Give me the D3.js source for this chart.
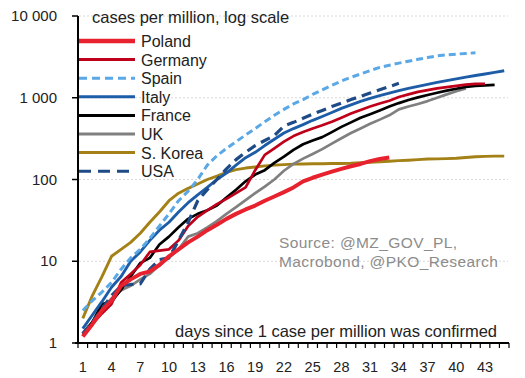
<!DOCTYPE html>
<html><head><meta charset="utf-8">
<script src="https://cdn.jsdelivr.net/npm/d3@7"></script>
<style>
body{margin:0;background:#fff;}
svg{display:block;font-family:"Liberation Sans",Arial,sans-serif;}
</style></head>
<body><svg id="c" width="525" height="378"></svg>
<script>
const days = d3.range(1, 46);
const xTickLabels = [1,4,7,10,13,16,19,22,25,28,31,34,37,40,43];
const yTickValues = [1,10,100,1000,10000];
const yTickLabels = ["1","10","100","1 000","10 000"];
const seriesNames = ["Poland","Germany","Spain","Italy","France","UK","S. Korea","USA"];

const poland = [1.2,1.7,2.5,3.3,5,6,7,7.5,9,11.5,14,17,20,24,28,33,38,43,48,55,62,70,80,95,105,115,125,135,145,155,168,178,186];
const germany = [1.3,1.7,2.3,3,5.5,7,9,13,13.5,14,18,27,35,42,50,58,68,80,130,200,240,290,340,380,420,460,510,570,640,710,780,850,920,1020,1100,1180,1240,1300,1350,1400,1450,1480,1480];
const spain = [2.5,3.3,4.2,5.5,8,11,14,19,27,38,55,72,100,150,195,240,290,350,420,510,610,720,840,950,1100,1250,1420,1600,1780,1950,2150,2350,2500,2650,2800,2950,3100,3250,3350,3420,3480,3550];
const italy = [1.5,2.2,3.2,4.8,6.5,10,13,18,24,30,40,52,65,80,100,120,150,185,215,260,310,370,420,470,530,590,660,740,820,900,980,1060,1140,1220,1300,1380,1460,1540,1620,1700,1790,1870,1950,2040,2140];
const france = [1.3,1.8,3,3.2,4.5,6.5,9.5,11,16,20,26,33,38,42,48,60,75,95,115,130,160,190,230,270,300,330,380,440,500,570,630,700,780,860,940,1010,1080,1150,1220,1290,1360,1400,1420,1440];
const uk = [1.3,1.8,2.6,3.5,4.4,5,6,7,9,11,14,20,22,26,31,38,46,56,68,82,100,128,155,180,205,235,275,320,370,420,480,540,610,720,780,840,910,1000,1100,1200,1300];
const korea = [2.0,3.8,6.5,11.5,14,17,22,30,40,55,68,78,88,100,110,122,132,138,142,147,150,152,154,155,156,156,157,157,158,160,162,165,167,170,172,175,178,179,180,182,186,190,192,193,193];
const usa = [1.3,1.8,2.6,3.8,5,5.2,5.3,8,10.5,11,18,30,55,75,100,135,175,215,260,300,345,450,500,560,630,700,780,860,950,1040,1140,1250,1370,1500];

const seriesValues = [poland,germany,spain,italy,france,uk,korea,usa];
const colors = ["#e8212e","#c0001a","#5ba8e6","#1d5ca6","#000000","#808080","#a48116","#1e4b86"];
const widths = [4,2.7,3,2.9,2.7,2.7,2.9,3.2];
const dashes = [null,null,"7,4",null,null,null,null,"10,6"];

const svg = d3.select("#c");
const x = d3.scaleBand().domain(days).range([78, 509]).padding(0);
const y = d3.scaleLog().domain([1, 10000]).range([343, 16]);
const cx = d => x(d) + x.bandwidth()/2;

// gridlines
svg.append("g").selectAll("line").data(yTickValues.slice(1)).join("line")
  .attr("x1", 79).attr("x2", 508)
  .attr("y1", d => y(d)).attr("y2", d => y(d))
  .attr("stroke", "#d8d8d8").attr("stroke-width", 1).attr("stroke-dasharray", "2,2");

// x axis
const gx = svg.append("g").attr("transform", "translate(0,343)");
gx.append("line").attr("x1", 75).attr("x2", 509).attr("stroke", "#000").attr("stroke-width", 2);
gx.selectAll("line.t").data(d3.range(0, 46)).join("line").attr("class","t")
  .attr("x1", i => 78 + i * x.step()).attr("x2", i => 78 + i * x.step())
  .attr("y1", 0).attr("y2", 5).attr("stroke", "#000").attr("stroke-width", 1.2);
gx.selectAll("text").data(xTickLabels).join("text")
  .attr("x", d => cx(d)).attr("y", 29).attr("text-anchor", "middle")
  .attr("font-size", 14.5).attr("fill", "#222").text(d => d);

// y axis
const gy = svg.append("g");
gy.append("line").attr("x1", 78).attr("x2", 78).attr("y1", 16).attr("y2", 344).attr("stroke", "#000").attr("stroke-width", 2);
gy.selectAll("line.t").data(yTickValues).join("line").attr("class","t")
  .attr("x1", 72).attr("x2", 78).attr("y1", d => y(d)).attr("y2", d => y(d))
  .attr("stroke", "#000").attr("stroke-width", 1.5);
gy.selectAll("text").data(yTickValues).join("text")
  .attr("x", 57).attr("y", d => y(d) + 5).attr("text-anchor", "end")
  .attr("font-size", 15).attr("fill", "#222").text((d,i) => yTickLabels[i]);

// lines
const line = d3.line().x((v,i) => cx(days[i])).y(v => y(v)).curve(d3.curveLinear);
const order = [6,5,4,1,3,7,2,0];
svg.append("g").selectAll("path").data(order).join("path")
  .attr("d", k => line(seriesValues[k]))
  .attr("fill", "none").attr("stroke", k => colors[k]).attr("stroke-width", k => widths[k])
  .attr("stroke-dasharray", k => dashes[k]).attr("stroke-linejoin", "round");

// title
svg.append("text").attr("x", 92).attr("y", 23).attr("font-size", 16.5).attr("fill", "#222")
  .text("cases per million, log scale");

// legend
const lg = svg.append("g");
seriesNames.forEach((n, i) => {
  const yy = 41 + i * 18.6;
  lg.append("line").attr("x1", 79).attr("x2", 135).attr("y1", yy).attr("y2", yy)
    .attr("stroke", colors[i]).attr("stroke-width", i === 0 ? 4.5 : 3)
    .attr("stroke-dasharray", dashes[i] ? (i === 7 ? "12,7" : "8,5") : null);
  lg.append("text").attr("x", 141).attr("y", yy + 6).attr("font-size", 16).attr("fill", "#222").text(n);
});

// source
svg.append("text").attr("x", 279).attr("y", 248).attr("font-size", 15.5).attr("fill", "#8c8c8c")
  .attr("letter-spacing", 0.4).text("Source: @MZ_GOV_PL,");
svg.append("text").attr("x", 279).attr("y", 267).attr("font-size", 15.5).attr("fill", "#8c8c8c")
  .attr("letter-spacing", 0.4).text("Macrobond, @PKO_Research");

// x title
svg.append("text").attr("x", 497).attr("y", 337).attr("text-anchor", "end").attr("font-size", 16.5).attr("fill", "#222")
  .text("days since 1 case per million was confirmed");
</script></body></html>
